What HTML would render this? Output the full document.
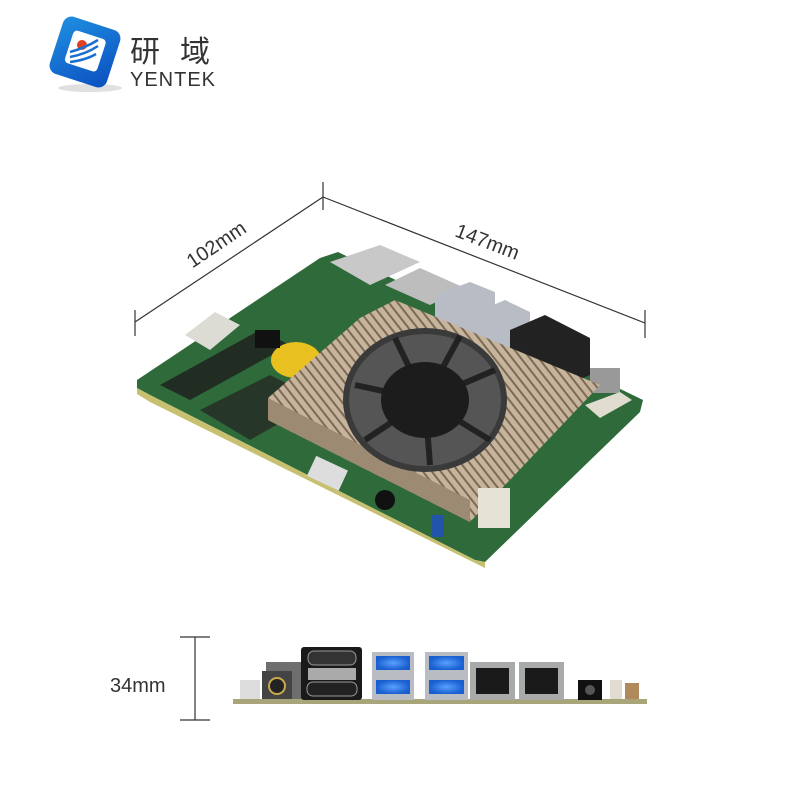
<!DOCTYPE html>
<html><head><meta charset="utf-8"><style>
html,body{margin:0;padding:0;background:#fff;width:800px;height:800px;overflow:hidden}
svg{display:block}
text{font-family:"Liberation Sans","Noto Sans CJK SC",sans-serif}
</style></head><body>
<svg width="800" height="800" viewBox="0 0 800 800" xmlns="http://www.w3.org/2000/svg">
<defs>
<linearGradient id="lg" x1="0" y1="0" x2="1" y2="1"><stop offset="0" stop-color="#1f8fe0"/><stop offset="1" stop-color="#0b4fc0"/></linearGradient>
<linearGradient id="hs" x1="0" y1="0" x2="1" y2="1"><stop offset="0" stop-color="#d8c9b4"/><stop offset="0.5" stop-color="#a8937a"/><stop offset="1" stop-color="#cbb9a2"/></linearGradient>
<pattern id="fins" width="7" height="7" patternUnits="userSpaceOnUse" patternTransform="rotate(-38)"><rect width="7" height="7" fill="#c6b49c"/><rect width="2" height="7" fill="#7d6a55"/></pattern>
<radialGradient id="ul"><stop offset="0" stop-color="#5aa0ff"/><stop offset="1" stop-color="#1a5fd0"/></radialGradient>
</defs>
<!-- logo -->
<ellipse cx="90" cy="88" rx="32" ry="4" fill="#ccc" opacity="0.6"/>
<rect x="55" y="22" width="60" height="60" rx="9" fill="url(#lg)" transform="rotate(18 85 52)"/>
<rect x="68" y="34" width="34" height="34" rx="4" fill="#fff" transform="rotate(18 85 52)"/>
<circle cx="82" cy="45" r="5" fill="#e04020"/>
<path d="M70 52 Q85 48 98 40 M70 57 Q86 54 98 46 M70 62 Q86 60 96 54" stroke="#1a6fd0" stroke-width="2.5" fill="none"/>
<text x="130" y="62" font-size="30" fill="#333" font-family="'Noto Serif CJK SC',serif">研</text>
<text x="180" y="62" font-size="30" fill="#333" font-family="'Noto Serif CJK SC',serif">域</text>
<text x="130" y="86" font-size="20" fill="#333" letter-spacing="1">YENTEK</text>
<!-- dimension lines -->
<g stroke="#333" stroke-width="1.2" fill="none">
<line x1="135" y1="310" x2="135" y2="336"/>
<line x1="135" y1="322" x2="323" y2="197"/>
<line x1="323" y1="182" x2="323" y2="210"/>
<line x1="323" y1="197" x2="645" y2="323"/>
<line x1="645" y1="310" x2="645" y2="338"/>
</g>
<text x="220" y="250" font-size="20" fill="#333" text-anchor="middle" transform="rotate(-34 220 250)">102mm</text>
<text x="485" y="248" font-size="20" fill="#333" text-anchor="middle" transform="rotate(21 485 248)">147mm</text>
<!-- board -->
<polygon points="137,380 320,258 338,252 643,400 640,412 485,562 475,560 150,395 137,388" fill="#2f6a3a"/>
<polygon points="137,388 150,395 475,560 485,562 485,568 150,402 137,394" fill="#c7c070"/>
<!-- components rough -->
<polygon points="185,335 215,312 240,325 210,350" fill="#dcdcd4"/>
<polygon points="160,385 260,330 290,345 190,400" fill="#1e1e1e" opacity="0.8"/>
<polygon points="200,410 270,375 320,400 250,440" fill="#222" opacity="0.7"/>
<polygon points="330,262 380,245 420,262 370,285" fill="#c8c8c8"/>
<polygon points="385,285 420,268 465,288 430,305" fill="#bdbdbd"/>
<polygon points="435,295 470,282 495,292 495,330 460,345 435,330" fill="#b8bcc4"/>
<polygon points="470,315 505,300 530,312 530,345 495,360 470,345" fill="#b8bcc4"/>
<polygon points="510,330 545,315 590,338 590,375 555,390 510,365" fill="#222"/>
<rect x="590" y="368" width="30" height="25" fill="#999"/>
<polygon points="585,405 620,392 632,400 600,418" fill="#e0dcd0"/>
<ellipse cx="296" cy="360" rx="25" ry="18" fill="#e8c020"/>
<rect x="255" y="330" width="25" height="18" fill="#111"/>
<!-- heatsink -->
<polygon points="268,398 360,318 395,300 600,385 470,522 268,420" fill="url(#fins)"/>
<polygon points="268,398 470,500 470,522 268,420" fill="#9d8a72"/>
<ellipse cx="425" cy="400" rx="82" ry="72" fill="#3a3a3a"/>
<ellipse cx="425" cy="400" rx="76" ry="66" fill="#555"/>
<g stroke="#222" stroke-width="6">
<line x1="425" y1="400" x2="495" y2="370"/><line x1="425" y1="400" x2="490" y2="440"/>
<line x1="425" y1="400" x2="430" y2="465"/><line x1="425" y1="400" x2="365" y2="440"/>
<line x1="425" y1="400" x2="355" y2="385"/><line x1="425" y1="400" x2="395" y2="338"/>
<line x1="425" y1="400" x2="460" y2="336"/>
</g>
<ellipse cx="425" cy="400" rx="44" ry="38" fill="#1c1c1c"/>
<rect x="310" y="462" width="35" height="22" fill="#ddd" transform="rotate(25 327 473)"/>
<rect x="478" y="488" width="32" height="40" fill="#e6e2d6"/>
<circle cx="385" cy="500" r="10" fill="#111"/>
<rect x="432" y="515" width="12" height="22" fill="#2255aa"/>
<!-- side view -->
<g stroke="#333" stroke-width="1.2"><line x1="195" y1="637" x2="195" y2="720"/><line x1="180" y1="637" x2="210" y2="637"/><line x1="180" y1="720" x2="210" y2="720"/></g>
<text x="110" y="692" font-size="20" fill="#333">34mm</text>
<rect x="233" y="699" width="414" height="5" fill="#a9a57a"/>
<rect x="240" y="680" width="20" height="19" fill="#ddd"/>
<rect x="266" y="662" width="38" height="37" fill="#6e6e6e"/>
<rect x="262" y="671" width="30" height="28" fill="#444"/>
<circle cx="277" cy="686" r="8" fill="#222" stroke="#c9a94a" stroke-width="2"/>
<rect x="301" y="647" width="61" height="53" rx="3" fill="#1a1a1a"/>
<rect x="308" y="651" width="48" height="14" rx="6" fill="#333" stroke="#999"/>
<rect x="308" y="668" width="48" height="12" fill="#aaa"/>
<rect x="307" y="682" width="50" height="14" rx="6" fill="#222" stroke="#999"/>
<rect x="372" y="652" width="42" height="48" fill="#b9bcc2"/>
<rect x="376" y="656" width="34" height="14" fill="url(#ul)"/>
<rect x="376" y="680" width="34" height="14" fill="url(#ul)"/>
<rect x="425" y="652" width="43" height="48" fill="#b9bcc2"/>
<rect x="429" y="656" width="35" height="14" fill="url(#ul)"/>
<rect x="429" y="680" width="35" height="14" fill="url(#ul)"/>
<rect x="470" y="662" width="45" height="38" fill="#a9abab"/>
<rect x="476" y="668" width="33" height="26" fill="#1a1a1a"/>
<rect x="519" y="662" width="45" height="38" fill="#a9abab"/>
<rect x="525" y="668" width="33" height="26" fill="#1a1a1a"/>
<rect x="578" y="680" width="24" height="20" fill="#111"/>
<circle cx="590" cy="690" r="5" fill="#555"/>
<rect x="610" y="680" width="12" height="19" fill="#e0dcd0"/>
<rect x="625" y="683" width="14" height="16" fill="#b08a5a"/>
</svg>
</body></html>
